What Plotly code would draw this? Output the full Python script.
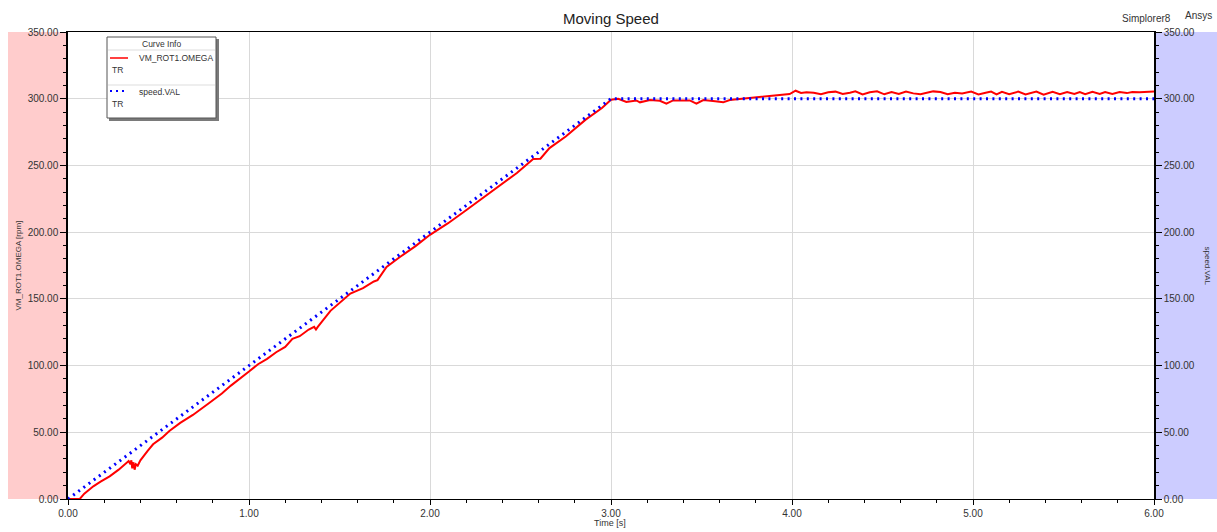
import plotly.graph_objects as go

# ---- data ----
speed_t = [0.0, 3.0, 6.0]
speed_v = [0.0, 300.0, 300.0]

omega_t = [0.00, 0.065, 0.09, 0.14, 0.18, 0.23, 0.28, 0.32, 0.335, 0.345, 0.35, 0.355, 0.362, 0.368, 0.375,
           0.385, 0.40, 0.44, 0.47, 0.52, 0.56, 0.62, 0.69, 0.78, 0.85, 0.90, 0.95, 1.00, 1.05, 1.10,
           1.15, 1.20, 1.24, 1.28, 1.33, 1.36, 1.37, 1.38, 1.45, 1.50, 1.56, 1.63, 1.69, 1.71, 1.76,
           1.83, 1.92, 2.00, 2.10, 2.19, 2.29, 2.39, 2.48, 2.57, 2.61, 2.66, 2.75, 2.86, 2.95, 3.00,
           3.04, 3.085, 3.14, 3.16, 3.215, 3.27, 3.306, 3.343, 3.435, 3.472, 3.51, 3.564, 3.62, 3.656,
           3.80, 3.90, 3.987, 4.02, 4.05, 4.08, 4.12, 4.16, 4.20, 4.24, 4.28, 4.32, 4.35, 4.39, 4.43,
           4.47, 4.51, 4.55, 4.59, 4.63, 4.67, 4.71, 4.75, 4.78, 4.82, 4.86, 4.90, 4.94, 4.99, 5.03,
           5.07, 5.10, 5.13, 5.16, 5.20, 5.25, 5.29, 5.32, 5.35, 5.39, 5.44, 5.48, 5.52, 5.56, 5.59,
           5.62, 5.66, 5.70, 5.73, 5.77, 5.81, 5.85, 5.88, 5.92, 5.96, 6.00]
omega_v = [0.0, 0.0, 4.0, 9.5, 13.0, 17.0, 22.0, 27.0, 28.5, 26.0, 29.0, 23.0, 27.5, 22.0, 26.0,
           25.0, 29.0, 36.0, 41.0, 46.0, 51.0, 57.0, 63.0, 72.0, 79.0, 85.0, 90.0, 95.5, 101.0, 105.0,
           110.0, 114.0, 120.0, 122.0, 127.0, 129.0, 127.0, 129.0, 141.0, 147.0, 154.0, 158.0, 163.0, 164.0, 174.0,
           181.0, 189.5, 198.0, 206.7, 215.5, 225.5, 235.5, 244.3, 254.8, 255.0, 263.0, 271.7, 284.3, 293.0, 299.3,
           300.0, 297.5, 298.7, 297.3, 299.0, 298.5, 296.3, 298.7, 298.7, 296.3, 299.0, 298.3, 297.3, 299.0,
           301.0, 302.3, 303.5, 306.0, 304.3, 304.8, 304.5, 303.3, 304.8, 305.3, 303.5, 304.5, 305.5, 303.2, 304.8,
           305.5, 303.3, 305.0, 303.5, 305.4, 304.0, 303.3, 304.8, 305.5, 305.0, 303.3, 304.5, 304.0, 305.3, 303.2,
           304.5, 305.3, 303.3, 305.2, 303.4, 305.3, 303.2, 304.5, 305.3, 303.0, 305.2, 303.3, 305.0, 303.5, 305.0,
           303.4, 305.2, 303.5, 305.0, 303.6, 305.0, 304.2, 305.0, 304.8, 305.0, 305.5]

x_ticks = [0, 1, 2, 3, 4, 5, 6]
y_ticks = [0, 50, 100, 150, 200, 250, 300, 350]

# ---- geometry helpers (pixel -> paper) ----
L, R, T, B = 68, 63, 32, 33
W, H = 1217, 532
PW, PH = W - L - R, H - T - B
def px(x):
    return (x - L) / PW
def py(y):
    return (H - B - y) / PH

FONT = "Liberation Sans, Arial, sans-serif"
TXT = "#333333"

fig = go.Figure()
fig.add_trace(go.Scatter(x=omega_t, y=omega_v, mode="lines", name="VM_ROT1.OMEGA",
                         line=dict(color="#ff0000", width=2), yaxis="y"))
fig.add_trace(go.Scatter(x=speed_t, y=speed_v, mode="lines", name="speed.VAL",
                         line=dict(color="#0000ff", width=3, dash="2px,4.4px"), yaxis="y2"))

axis_common = dict(tickfont=dict(family=FONT, size=10, color=TXT), ticks="outside",
                   tickcolor="#000", linecolor="#000", showline=True, zeroline=False)

fig.update_layout(
    width=W, height=H, margin=dict(l=L, r=R, t=T, b=B),
    paper_bgcolor="white", plot_bgcolor="white", showlegend=False,
    xaxis=dict(range=[0, 6], tickvals=x_ticks, ticktext=[f"{v:.2f}" for v in x_ticks],
               ticklen=5, showgrid=True, gridcolor="#d9d9d9", gridwidth=1, mirror=True,
               minor=dict(dtick=0.2, ticks="outside", ticklen=3, tickcolor="#000", showgrid=False),
               **axis_common),
    yaxis=dict(range=[0, 350], tickvals=y_ticks, ticktext=[f"{v:.2f}" for v in y_ticks],
               ticklen=6, showgrid=True, gridcolor="#d9d9d9", gridwidth=1, linewidth=1.5,
               minor=dict(dtick=10, ticks="outside", ticklen=3, tickcolor="#000", showgrid=False),
               **axis_common),
    yaxis2=dict(range=[0, 350], tickvals=y_ticks, ticktext=[f"{v:.2f}" for v in y_ticks],
                overlaying="y", side="right", ticklen=6, showgrid=False, linewidth=1.5,
                minor=dict(dtick=10, ticks="outside", ticklen=3, tickcolor="#000", showgrid=False),
                **axis_common),
)

shapes = [
    # colored side bands
    dict(type="rect", xref="paper", yref="paper", x0=px(8), x1=0, y0=0, y1=1,
         fillcolor="#ffcccc", line=dict(width=0), layer="below"),
    dict(type="rect", xref="paper", yref="paper", x0=1, x1=px(1217), y0=0, y1=1,
         fillcolor="#ccccff", line=dict(width=0), layer="below"),
    # legend box shadow + box
    dict(type="rect", xref="paper", yref="paper", x0=px(109), x1=px(219), y0=py(121), y1=py(39),
         fillcolor="#7a7a7a", line=dict(width=0), layer="above"),
    dict(type="rect", xref="paper", yref="paper", x0=px(107), x1=px(216), y0=py(118), y1=py(37),
         fillcolor="white", line=dict(color="#555555", width=1), layer="above"),
    dict(type="line", xref="paper", yref="paper", x0=px(108), x1=px(215), y0=py(50), y1=py(50),
         line=dict(color="#dddddd", width=1), layer="above"),
    dict(type="line", xref="paper", yref="paper", x0=px(108), x1=px(215), y0=py(85), y1=py(85),
         line=dict(color="#dddddd", width=1), layer="above"),
    dict(type="line", xref="paper", yref="paper", x0=px(110), x1=px(128), y0=py(58), y1=py(58),
         line=dict(color="#ff0000", width=1.5), layer="above"),
    dict(type="line", xref="paper", yref="paper", x0=px(110), x1=px(127), y0=py(91), y1=py(91),
         line=dict(color="#0000ff", width=2, dash="2px,4px"), layer="above"),
]
fig.update_layout(shapes=shapes)

def ann(text, x, y, size=9, xanchor="center", angle=0, color=TXT, bold=False):
    fig.add_annotation(text=f"<b>{text}</b>" if bold else text, xref="paper", yref="paper",
                       x=x, y=y, showarrow=False, xanchor=xanchor, yanchor="middle",
                       textangle=angle, font=dict(family=FONT, size=size, color=color))

ann("Moving Speed", px(611), py(18), size=15, color="#222222")
ann("Simplorer8", px(1146), py(18), size=10)
ann("Ansys", px(1198), py(16), size=10)
ann("Time [s]", px(610), py(523), size=9)
ann("VM_ROT1.OMEGA [rpm]", px(18), 0.5, size=8, angle=-90)
ann("speed.VAL", px(1207), 0.5, size=8, angle=90)
# legend text
ann("Curve Info", px(161), py(44), size=8.5)
ann("VM_ROT1.OMEGA", px(137), py(58), size=8.5, xanchor="left")
ann("TR", px(110), py(70), size=8.5, xanchor="left")
ann("speed.VAL", px(137), py(92), size=8.5, xanchor="left")
ann("TR", px(110), py(104), size=8.5, xanchor="left")

fig.write_html("out.html")
